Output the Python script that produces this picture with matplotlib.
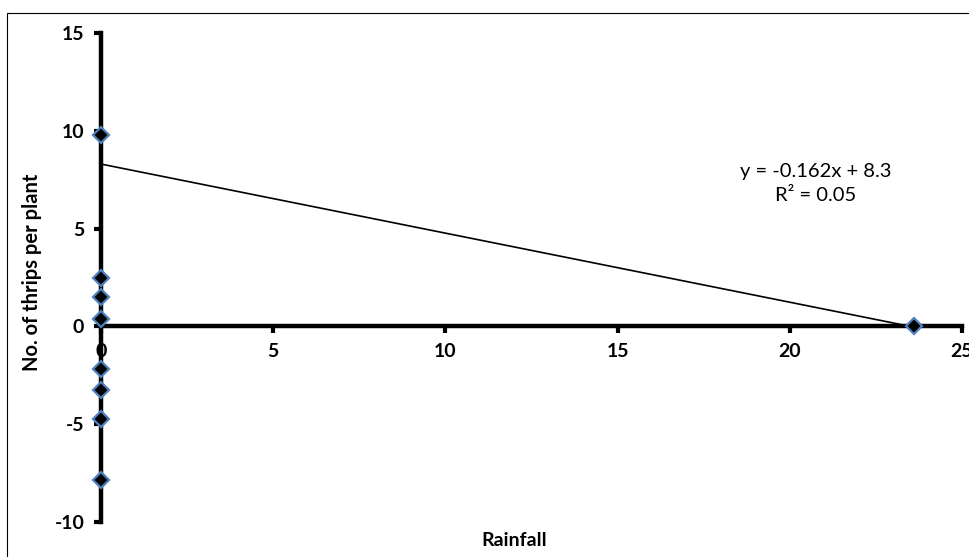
import matplotlib.pyplot as plt
from matplotlib.patches import Rectangle

# rainfall vs thrips data
rainfall = [0, 0, 0, 0, 0, 0, 0, 0, 23.6]
thrips = [9.8, 2.45, 1.48, 0.4, -2.2, -3.27, -4.75, -7.87, 0.0]

# fitted trend line as drawn
trend_x = [0, 23.5]
trend_y = [8.3, 0.0]

x_ticks = [0, 5, 10, 15, 20, 25]
y_ticks = [-10, -5, 0, 5, 10, 15]

plt.rcParams['font.family'] = ['Lato', 'DejaVu Sans']
plt.rcParams['axes.unicode_minus'] = False

fig = plt.figure(figsize=(9.7, 5.57), dpi=100)
fig.patches.append(Rectangle((7 / 970, -0.1), 1.2, 1 - 13 / 557 + 0.1,
                             transform=fig.transFigure, fill=False,
                             edgecolor='black', linewidth=0.8))

ax = fig.add_axes([101 / 970, 35 / 557, 861 / 970, 489 / 557])

ax.plot(trend_x, trend_y, color='black', linewidth=1.2, zorder=2)
ax.plot(rainfall, thrips, linestyle='none', marker='D', markersize=8,
        markerfacecolor='black', markeredgecolor='#4f81bd',
        markeredgewidth=1.6, zorder=4, clip_on=False)

ax.set_xlim(0, 25)
ax.set_ylim(-10, 15)
ax.set_xticks(x_ticks)
ax.set_yticks(y_ticks)

ax.spines['left'].set_position(('data', 0))
ax.spines['bottom'].set_position(('data', 0))
ax.spines['right'].set_visible(False)
ax.spines['top'].set_visible(False)
for s in ['left', 'bottom']:
    ax.spines[s].set_linewidth(3.2)
    ax.spines[s].set_zorder(3)

ax.tick_params(axis='both', direction='out', length=5, width=3,
               labelsize=14, pad=7)
for lab in ax.get_xticklabels() + ax.get_yticklabels():
    lab.set_fontweight('bold')

ax.text(20.75, 7.3, 'y = -0.162x + 8.3\nR² = 0.05', ha='center', va='center',
        fontsize=14.5, linespacing=1.45)

fig.text(514 / 970, 1 - 541 / 557, 'Rainfall', ha='center', va='center',
         fontsize=14, fontweight='bold')
fig.text(32 / 970, 1 - 272 / 557, 'No. of thrips per plant', ha='center',
         va='center', rotation=90, fontsize=14.5, fontweight='bold')

fig.savefig('out.png', dpi=100)
